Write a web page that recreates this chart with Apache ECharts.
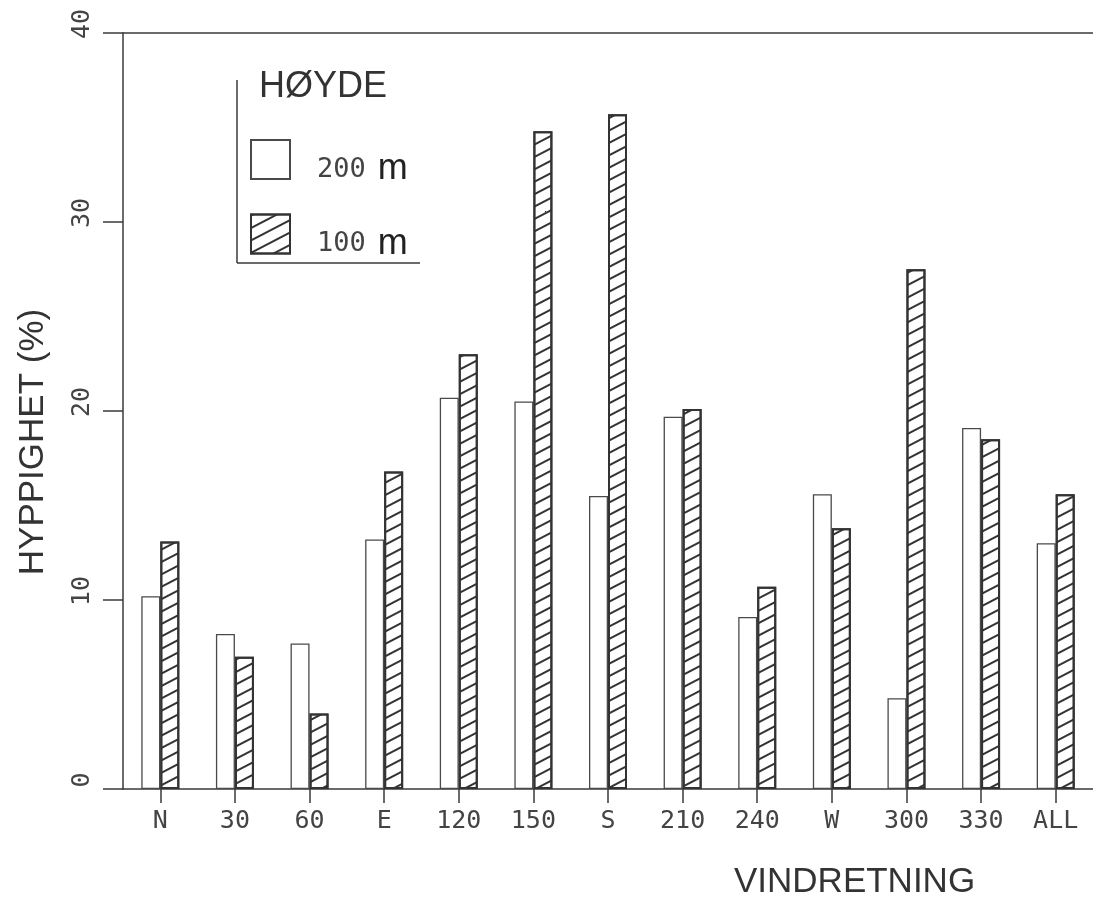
<!DOCTYPE html>
<html>
<head>
<meta charset="utf-8">
<script src="https://cdn.jsdelivr.net/npm/echarts@6/dist/echarts.min.js"></script>
<style>
html,body{margin:0;padding:0;background:#fff;}
#chart{width:1093px;height:897px;}
</style>
</head>
<body>
<div id="chart"></div>
<script>
var categories = ['N', '30', '60', 'E', '120', '150', 'S', '210', '240', 'W', '300', '330', 'ALL'];
var values200 = [10.2, 8.2, 7.7, 13.2, 20.7, 20.5, 15.5, 19.7, 9.1, 15.6, 4.8, 19.1, 13.0];
var values100 = [13.1, 7.0, 4.0, 16.8, 23.0, 34.8, 35.7, 20.1, 10.7, 13.8, 27.5, 18.5, 15.6];
var yTicks = [0, 10, 20, 30, 40];
var seriesNames = ['200 m', '100 m'];

var chart = echarts.init(document.getElementById('chart'));
var ink = '#3a3a3a';
var monoFont = "'DejaVu Sans Mono', monospace";
var sansFont = "'Liberation Sans', Arial, sans-serif";

var option = {
  backgroundColor: '#ffffff',
  animation: false,
  grid: { left: 123, top: 33, bottom: 108, right: -10, containLabel: false },
  title: [
    { text: 'HØYDE', left: 254, top: 64,
      textStyle: { fontFamily: sansFont, fontSize: 36, fontWeight: 'normal', color: '#333' } },
    { text: 'VINDRETNING', left: 729, top: 860,
      textStyle: { fontFamily: sansFont, fontSize: 35, fontWeight: 'normal', color: '#333' } }
  ],
  legend: {
    orient: 'vertical', left: 250, top: 139, padding: 0,
    itemWidth: 39, itemHeight: 39, itemGap: 26,
    icon: 'rect',
    data: seriesNames,
    formatter: function (name) {
      var parts = name.split(' ');
      return '{n|' + parts[0] + '}{m|' + parts[1] + '}';
    },
    textStyle: {
      padding: [20, 0, 0, 22],
      rich: {
        n: { fontFamily: monoFont, fontSize: 27, color: '#444' },
        m: { fontFamily: sansFont, fontSize: 36, color: '#222', padding: [0, 0, 0, 12] }
      }
    }
  },
  graphic: [
    { type: 'line', shape: { x1: 237, y1: 80, x2: 237, y2: 263 }, style: { stroke: ink, lineWidth: 1.5 } },
    { type: 'line', shape: { x1: 237, y1: 263, x2: 420, y2: 263 }, style: { stroke: ink, lineWidth: 1.5 } }
  ],
  xAxis: [
    {
      type: 'category', data: categories, position: 'bottom',
      axisLine: { show: true, lineStyle: { color: ink, width: 1.5 } },
      axisTick: { show: true, alignWithLabel: true, length: 14, lineStyle: { color: ink, width: 1.5 } },
      axisLabel: { margin: 20, fontFamily: monoFont, fontSize: 25, color: '#444' },
      splitLine: { show: false }
    },
    {
      type: 'category', data: categories, position: 'top',
      axisLine: { show: true, lineStyle: { color: ink, width: 1.5 } },
      axisTick: { show: false }, axisLabel: { show: false }, splitLine: { show: false }
    }
  ],
  yAxis: {
    type: 'value', min: yTicks[0], max: yTicks[yTicks.length - 1], interval: 10,
    axisLine: { show: true, lineStyle: { color: ink, width: 1.5 } },
    axisTick: { show: true, length: 20, lineStyle: { color: ink, width: 1.5 } },
    axisLabel: { rotate: 90, margin: 28, fontFamily: monoFont, fontSize: 25, color: '#444',
      padding: [0, 0, 0, 18] },
    splitLine: { show: false },
    name: 'HYPPIGHET (%)', nameLocation: 'middle', nameRotate: 90, nameGap: 72,
    nameTextStyle: { fontFamily: sansFont, fontSize: 35, color: '#333', padding: [0, 62, 0, 0] }
  },
  series: [
    {
      name: seriesNames[0], type: 'bar', data: values200, barWidth: 19, barGap: '0%',
      itemStyle: { color: '#ffffff', borderColor: '#4a4a4a', borderWidth: 1.3 }
    },
    {
      name: seriesNames[1], type: 'bar', data: values100, barWidth: 19, barGap: '0%',
      itemStyle: {
        color: '#ffffff', borderColor: '#333', borderWidth: 2,
        decal: { symbol: 'rect', symbolSize: 1, dashArrayX: [1, 0], dashArrayY: [1.7, 8.3],
                 rotation: -0.48, color: '#333' }
      }
    }
  ]
};
chart.setOption(option);
</script>
</body>
</html>
